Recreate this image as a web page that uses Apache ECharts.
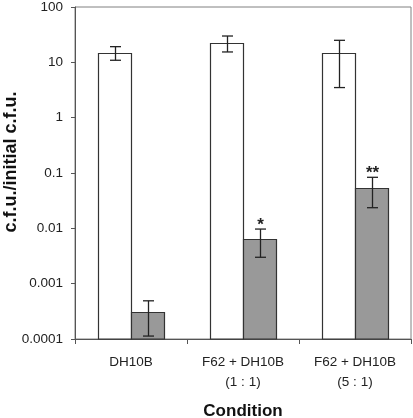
<!DOCTYPE html>
<html><head><meta charset="utf-8">
<script src="https://cdn.jsdelivr.net/npm/echarts@6/dist/echarts.min.js"></script>
<style>html,body{margin:0;padding:0;background:#fff}#c{width:413px;height:418px}</style>
</head><body><div id="c"></div>
<script>
const categories = ['DH10B', 'F62 + DH10B\n(1 : 1)', 'F62 + DH10B\n(5 : 1)'];
const whiteValues = [14.9, 22.6, 14.8];
const whiteErrLow = [10.9, 15.4, 3.5];
const whiteErrHigh = [19.2, 29.9, 25.0];
const grayValues = [0.00031, 0.0064, 0.054];
const grayErrLow = [0.000113, 0.0030, 0.0236];
const grayErrHigh = [0.00049, 0.0097, 0.0836];
const stars = ['', '*', '**'];
const yTickLabels = {'-4':'0.0001','-3':'0.001','-2':'0.01','-1':'0.1','0':'1','1':'10','2':'100'};
const Y_MIN = 0.0001, Y_MAX = 100;

const BAR_W = 33;
function barSeries(values, low, high, offset, fill, labels) {
  return {
    type: 'custom',
    z: 5,
    data: categories.map((c, i) => [i, values[i], low[i], high[i]]),
    encode: { x: 0, y: 1 },
    renderItem: function (params, api) {
      const i = api.value(0);
      const top = api.coord([i, api.value(1)]);
      const base = api.coord([i, Y_MIN]);
      const lo = api.coord([i, api.value(2)]);
      const hi = api.coord([i, api.value(3)]);
      const xc = top[0] + offset;
      const x0 = Math.round(xc - BAR_W / 2) + 0.5;
      const children = [
        { type: 'rect', shape: { x: x0, y: Math.round(top[1]) + 0.5, width: BAR_W, height: base[1] - Math.round(top[1]) - 0.5 },
          style: { fill: fill, stroke: '#333', lineWidth: 1.2 } }
      ];
      const x = Math.round(xc) + 0.5;
      const cap = 5.5;
      const st = { stroke: '#222', lineWidth: 1.3 };
      children.push(
        { type: 'line', shape: { x1: x, y1: lo[1], x2: x, y2: hi[1] }, style: st },
        { type: 'line', shape: { x1: x - cap, y1: lo[1], x2: x + cap, y2: lo[1] }, style: st },
        { type: 'line', shape: { x1: x - cap, y1: hi[1], x2: x + cap, y2: hi[1] }, style: st }
      );
      const t = labels ? labels[params.dataIndex] : '';
      if (t) {
        children.push({ type: 'text', style: { text: t, x: x, y: hi[1] + 5, textAlign: 'center', textVerticalAlign: 'bottom',
          font: 'bold 17px "Liberation Sans", Arial', fill: '#222' } });
      }
      return { type: 'group', children: children };
    }
  };
}

const chart = echarts.init(document.getElementById('c'));
chart.setOption({
  animation: false,
  grid: { left: 75, right: 2, top: 7, bottom: 79, containLabel: false, outerBoundsMode: 'none',
    show: true, borderColor: '#808080', borderWidth: 1 },
  xAxis: {
    type: 'category', data: categories,
    name: 'Condition', nameLocation: 'middle', nameGap: 64,
    nameTextStyle: { fontFamily: 'Liberation Sans', fontWeight: 'bold', fontSize: 17, color: '#111' },
    axisLine: { lineStyle: { color: '#555', width: 1 } },
    axisTick: { show: true, length: 5, lineStyle: { color: '#555' } },
    axisLabel: { margin: 13, fontFamily: 'Liberation Sans', fontSize: 13.5, color: '#222', lineHeight: 20 }
  },
  yAxis: {
    type: 'log', logBase: 10, min: Y_MIN, max: Y_MAX,
    axisLine: { show: true, lineStyle: { color: '#555', width: 1 } },
    axisTick: { show: true, length: 4, lineStyle: { color: '#555' } },
    splitLine: { show: false },
    axisLabel: { margin: 12, fontFamily: 'Liberation Sans', fontSize: 13.5, color: '#222',
      formatter: function (v) { const k = String(Math.round(Math.log10(v))); return yTickLabels[k] || ''; } }
  },
  graphic: [{
    type: 'text', z: 10,
    rotation: Math.PI / 2,
    x: 11, y: 162,
    style: { text: 'c.f.u./initial c.f.u.', font: 'bold 18px "Liberation Sans", Arial', fill: '#111', textAlign: 'center', textVerticalAlign: 'middle' }
  }],
  series: [
    barSeries(whiteValues, whiteErrLow, whiteErrHigh, -BAR_W / 2, '#ffffff', null),
    barSeries(grayValues, grayErrLow, grayErrHigh, BAR_W / 2, '#999999', stars)
  ]
});
</script></body></html>
